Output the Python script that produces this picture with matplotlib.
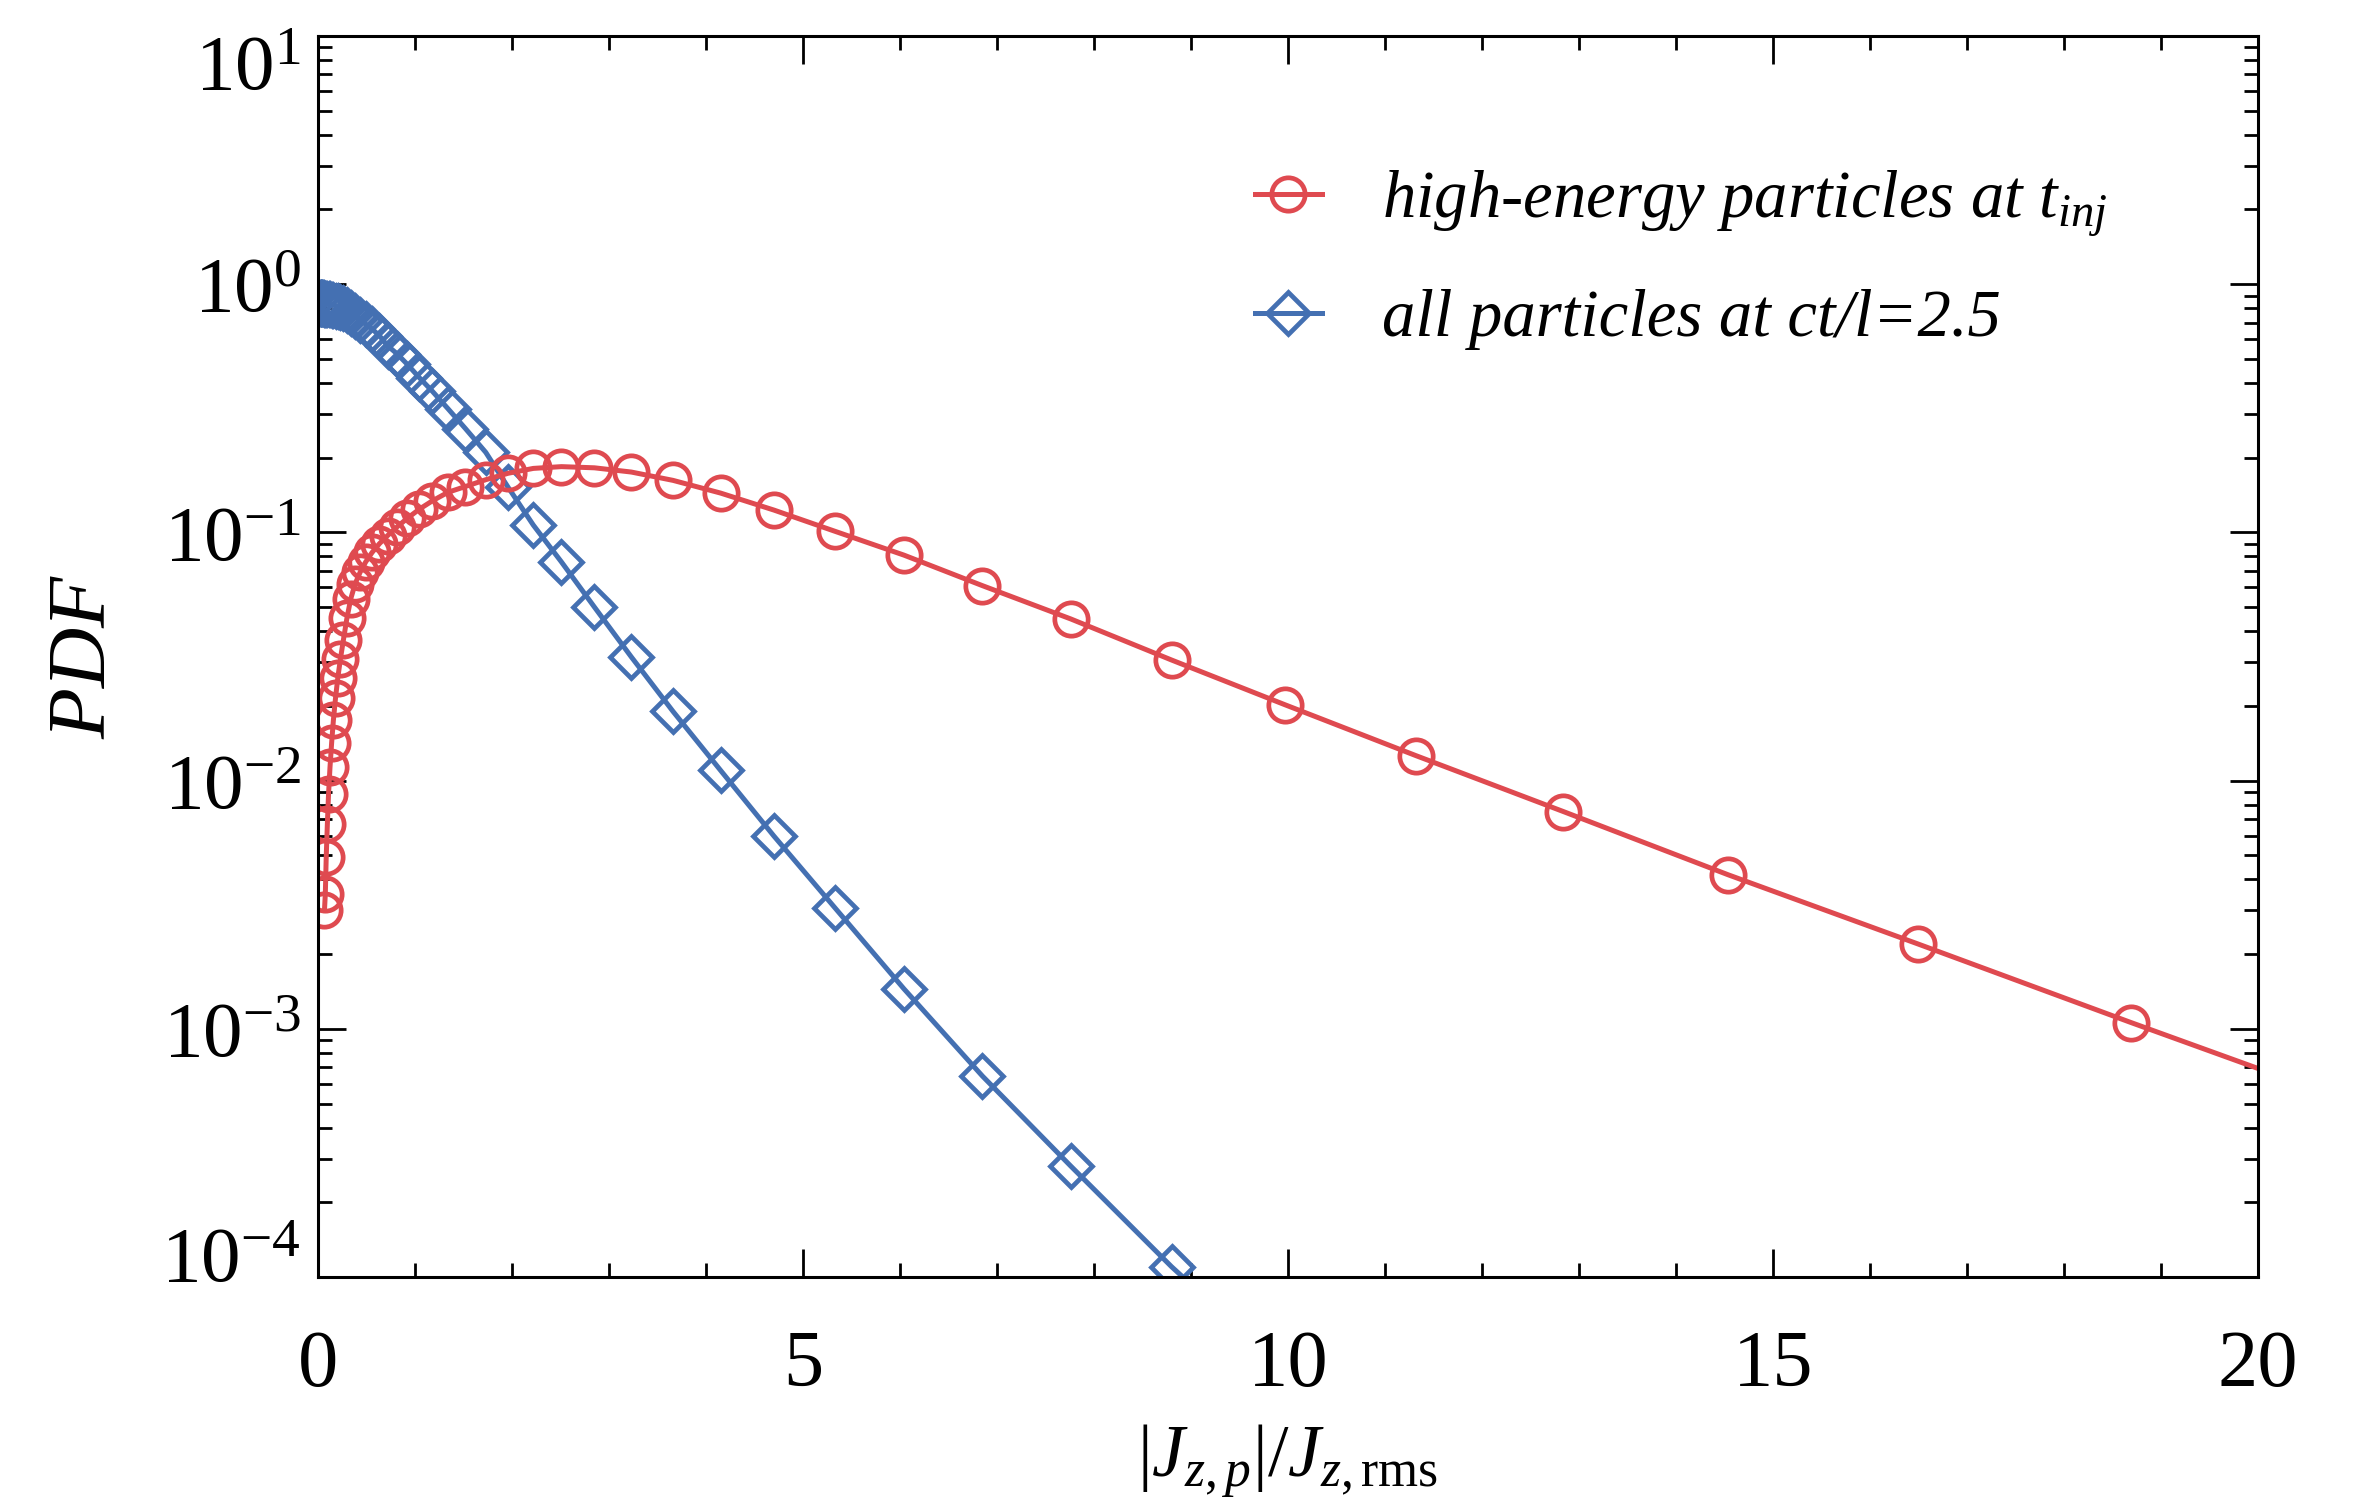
import math

import matplotlib
matplotlib.use("Agg")
import matplotlib.pyplot as plt
import matplotlib.ticker as mticker
from matplotlib.transforms import ScaledTranslation

plt.rcParams["font.family"] = ["Liberation Serif", "DejaVu Serif"]
plt.rcParams["mathtext.fontset"] = "custom"
plt.rcParams["mathtext.rm"] = "Liberation Serif"
plt.rcParams["mathtext.it"] = "Liberation Serif:italic"

# bin centres
X_RED = [0.067, 0.076, 0.085, 0.097, 0.109, 0.124, 0.141, 0.159, 0.181, 0.205,
         0.232, 0.263, 0.298, 0.338, 0.383, 0.434, 0.492, 0.558, 0.633, 0.717,
         0.813, 0.922, 1.045, 1.18, 1.34, 1.52, 1.73, 1.96, 2.22, 2.51,
         2.85, 3.23, 3.66, 4.15, 4.70, 5.33, 6.04, 6.85, 7.76, 8.80,
         9.97, 11.32, 12.84, 14.54, 16.49, 18.69, 21.19]
PDF_RED = [3.0e-3, 3.5e-3, 4.9e-3, 6.7e-3, 8.8e-3, 1.13e-2, 1.42e-2, 1.75e-2, 2.15e-2, 2.6e-2,
           3.1e-2, 3.7e-2, 4.5e-2, 5.4e-2, 6.2e-2, 6.9e-2, 7.6e-2, 8.3e-2, 9.0e-2, 9.7e-2,
           0.105, 0.114, 0.124, 0.134, 0.145, 0.153, 0.163, 0.173, 0.181, 0.184,
           0.182, 0.175, 0.162, 0.144, 0.123, 0.101, 0.081, 0.061, 0.0448, 0.0306,
           0.0202, 0.0126, 0.0075, 0.00417, 0.0022, 0.00106, 0.00047]

X_BLUE = [0.024, 0.028, 0.031, 0.035, 0.040, 0.045, 0.052, 0.058,
          0.067, 0.076, 0.085, 0.097, 0.109, 0.124, 0.141, 0.159, 0.181, 0.205,
          0.232, 0.263, 0.298, 0.338, 0.383, 0.434, 0.492, 0.558, 0.633, 0.717,
          0.813, 0.922, 1.045, 1.18, 1.34, 1.52, 1.73, 1.96, 2.22, 2.51,
          2.85, 3.23, 3.66, 4.15, 4.70, 5.33, 6.04, 6.85, 7.76, 8.80, 9.97]
PDF_BLUE = [0.84, 0.84, 0.84, 0.84, 0.84, 0.838, 0.837, 0.836,
            0.835, 0.834, 0.833, 0.832, 0.83, 0.828, 0.826, 0.823, 0.82, 0.815,
            0.808, 0.80, 0.79, 0.765, 0.745, 0.72, 0.69, 0.66, 0.62, 0.565,
            0.525, 0.475, 0.42, 0.37, 0.315, 0.262, 0.21, 0.152, 0.107, 0.076,
            0.050, 0.0315, 0.019, 0.011, 0.00598, 0.00307, 0.00145, 0.000645, 0.00028, 0.00011, 0.000042]

LABEL_RED = r"high-energy particles at $t_{inj}$"
LABEL_BLUE = "all particles at ct/l=2.5"

RED = "#DF4A50"
BLUE = "#4470B2"

fig = plt.figure(figsize=(23.57, 15.10), dpi=100)
ax = fig.add_axes([0.1349, 0.1543, 0.8231, 0.8219])

hb, = ax.plot(X_BLUE, PDF_BLUE, color=BLUE, lw=3.6, marker="D", ms=21,
              mfc="none", mew=3.4, label=LABEL_BLUE)
hr, = ax.plot(X_RED, PDF_RED, color=RED, lw=3.6, marker="o", ms=24,
              mfc="none", mew=3.4, label=LABEL_RED)

ax.set_yscale("log")
ax.set_xlim(0, 20)
ax.set_ylim(1e-4, 1e1)

ax.xaxis.set_major_locator(mticker.MultipleLocator(5))
ax.xaxis.set_minor_locator(mticker.MultipleLocator(1))
ax.yaxis.set_major_locator(mticker.LogLocator(base=10, numticks=20))
ax.yaxis.set_minor_locator(mticker.LogLocator(base=10, subs=range(2, 10), numticks=20))
ax.yaxis.set_minor_formatter(mticker.NullFormatter())
ax.yaxis.set_major_formatter(
    mticker.FuncFormatter(lambda v, p: r"$\mathregular{10^{%d}}$" % round(math.log10(v)))
)

for a in ["top", "bottom", "left", "right"]:
    ax.spines[a].set_linewidth(2.2)
ax.tick_params(which="both", direction="in", top=True, right=True, width=2)
ax.tick_params(which="major", length=20)
ax.tick_params(which="minor", length=10)
ax.tick_params(axis="x", which="major", labelsize=58, pad=38)
ax.tick_params(axis="y", which="major", labelsize=57, pad=12)

fig.canvas.draw()
for lab in ax.get_yticklabels():
    txt = lab.get_text()
    if "{-4}" in txt or "{−4}" in txt:
        lab.set_transform(lab.get_transform() + ScaledTranslation(0, 0.24, fig.dpi_scale_trans))
    if "{1}" in txt:
        lab.set_transform(lab.get_transform() + ScaledTranslation(0, -0.25, fig.dpi_scale_trans))

ax.set_xlabel(r"$|J_{z,p}|/J_{z,\mathrm{rms}}$", fontsize=53, labelpad=14)
ax.set_ylabel(r"$PDF$", fontsize=60, labelpad=28)

ax.legend(handles=[hr, hb], loc="center left", bbox_to_anchor=(0.452, 0.82),
          frameon=False, numpoints=1, handlelength=1.0, handletextpad=0.9,
          labelspacing=0.75, prop={"family": "Liberation Serif", "style": "italic", "size": 48})

fig.savefig("out.png", dpi=100)
